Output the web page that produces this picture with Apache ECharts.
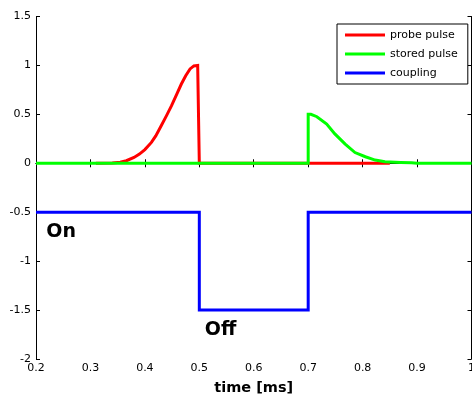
<!DOCTYPE html>
<html>
<head>
<meta charset="utf-8">
<script src="https://cdn.jsdelivr.net/npm/echarts@6/dist/echarts.min.js"></script>
<style>
html,body{margin:0;padding:0;background:#fff;}
#chart{width:472px;height:400px;}
</style>
</head>
<body>
<div id="chart"></div>
<script>
// ---- data ----
var probeT = [0.31, 0.34, 0.355, 0.366, 0.38, 0.39, 0.40, 0.412, 0.42, 0.43, 0.44, 0.449, 0.458, 0.467, 0.475, 0.483, 0.49, 0.497, 0.5, 0.5, 0.85];
var probeV = [0, 0.003, 0.01, 0.026, 0.06, 0.094, 0.14, 0.213, 0.28, 0.384, 0.49, 0.589, 0.70, 0.81, 0.895, 0.964, 0.995, 1.0, 1.0, 0, 0];
var storedT = [0.2, 0.7, 0.7, 0.705, 0.716, 0.734, 0.749, 0.768, 0.786, 0.805, 0.823, 0.841, 0.87, 0.89, 0.9, 1.0];
var storedV = [0, 0, 0.5, 0.5, 0.476, 0.40, 0.30, 0.196, 0.11, 0.067, 0.033, 0.015, 0.008, 0.005, 0, 0];
var couplingT = [0.2, 0.5, 0.5, 0.7, 0.7, 1.0];
var couplingV = [-0.5, -0.5, -1.5, -1.5, -0.5, -0.5];
var seriesNames = ['probe pulse', 'stored pulse', 'coupling'];
var seriesColors = ['#ff0000', '#00ff00', '#0000ff'];
var annotations = [
  {text: 'On', x: 0.219, y: -0.70},
  {text: 'Off', x: 0.51, y: -1.70}
];
var xName = 'time [ms]';

function zip(a, b) { return a.map(function (v, i) { return [v, b[i]]; }); }

var chart = echarts.init(document.getElementById('chart'));
var FONT = 'DejaVu Sans';
var axisCommon = {
  type: 'value',
  axisLine: {show: true, lineStyle: {color: '#000', width: 1}},
  axisTick: {show: true, inside: true, length: 4, lineStyle: {color: '#000'}},
  splitLine: {show: false}
};
var option = {
  animation: false,
  backgroundColor: '#fff',
  grid: {left: 36, right: 0.5, top: 16.5, bottom: 41, containLabel: false, outerBoundsMode: 'none'},
  legend: {
    orient: 'vertical',
    left: 337, top: 24,
    padding: [4, 10, 4, 8],
    itemGap: 5,
    itemWidth: 40, itemHeight: 3,
    icon: 'rect',
    backgroundColor: '#fff',
    borderColor: '#000', borderWidth: 1,
    textStyle: {fontFamily: FONT, fontSize: 11, color: '#000', lineHeight: 14, padding: [0, 0, 0, 0]},
    data: seriesNames
  },
  xAxis: [
    Object.assign({}, axisCommon, {
      min: 0.2, max: 1, interval: 0.1, position: 'bottom',
      name: xName, nameLocation: 'middle', nameGap: 22,
      nameTextStyle: {fontFamily: FONT, fontWeight: 'bold', fontSize: 14.5, color: '#000'},
      axisLabel: {fontFamily: FONT, fontSize: 11, color: '#000', margin: 4, showMaxLabel: true, showMinLabel: true,
        formatter: function (v) { return String(Math.round(v * 10) / 10); }}
    }),
    Object.assign({}, axisCommon, {
      min: 0.2, max: 1, interval: 0.1, position: 'top', axisLabel: {show: false}
    })
  ],
  yAxis: [
    Object.assign({}, axisCommon, {
      min: -2, max: 1.5, interval: 0.5, position: 'left',
      axisLabel: {fontFamily: FONT, fontSize: 11, color: '#000', margin: 5}
    }),
    Object.assign({}, axisCommon, {
      min: -2, max: 1.5, interval: 0.5, position: 'right', axisLabel: {show: false}
    })
  ],
  series: [
    {name: seriesNames[0], type: 'line', data: zip(probeT, probeV)},
    {name: seriesNames[1], type: 'line', data: zip(storedT, storedV)},
    {name: seriesNames[2], type: 'line', data: zip(couplingT, couplingV)}
  ].map(function (s, i) {
    return Object.assign(s, {
      xAxisIndex: 0, yAxisIndex: 0,
      showSymbol: false, symbol: 'none',
      color: seriesColors[i],
      lineStyle: {color: seriesColors[i], width: 3, join: 'miter'},
      z: 2 + i
    });
  })
};
chart.setOption(option);

var graphics = annotations.map(function (a) {
  var p = chart.convertToPixel({xAxisIndex: 0, yAxisIndex: 0}, [a.x, a.y]);
  return {
    type: 'text', x: p[0], y: p[1], z: 100,
    style: {text: a.text, fill: '#000', font: 'bold 19px "DejaVu Sans"', textAlign: 'left', textVerticalAlign: 'middle'}
  };
});
chart.setOption({graphic: graphics});
</script>
</body>
</html>
